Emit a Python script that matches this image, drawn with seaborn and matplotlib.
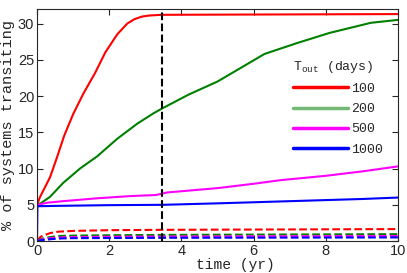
import numpy as np
import pandas as pd
import matplotlib
matplotlib.use("Agg")
import matplotlib.pyplot as plt
from matplotlib.lines import Line2D
import seaborn as sns

sns.set_style("ticks")

# --- data (time in yr, % of systems transiting) ---
t_red = [0, 0.08, 0.36, 0.55, 0.75, 1.0, 1.28, 1.61, 1.89, 2.22, 2.5, 2.7, 2.9, 3.1, 3.45, 10]
y_red = [5, 6.05, 8.8, 11.5, 14.5, 17.5, 20.3, 23.2, 26.0, 28.5, 30.0, 30.6, 30.95, 31.1, 31.2, 31.3]

t_green = [0, 0.1, 0.36, 0.72, 1.19, 1.67, 2.22, 2.78, 3.22, 3.47, 4.2, 5.0, 6.3, 7.2, 8.1, 9.25, 10]
y_green = [5, 5.2, 6.1, 8.0, 10.0, 11.7, 14.1, 16.2, 17.6, 18.3, 20.2, 22.0, 25.8, 27.3, 28.7, 30.1, 30.5]

t_mag = [0, 0.3, 0.72, 1.67, 2.58, 3.3, 3.6, 5, 6, 6.75, 8, 9, 10]
y_mag = [5, 5.3, 5.5, 5.9, 6.2, 6.35, 6.7, 7.3, 7.9, 8.4, 9.0, 9.6, 10.3]

t_blue = [0, 0.01, 0.5, 2, 3.5, 5, 7, 9, 10]
y_blue = [0, 4.8, 4.85, 4.95, 5.0, 5.2, 5.5, 5.8, 6.0]

# dashed (lower) curves
t_dash = [0, 0.1, 0.36, 0.6, 1.0, 2.0, 3.5, 10]
y_dash_red = [0, 0.6, 1.1, 1.3, 1.4, 1.5, 1.55, 1.65]
y_dash_green = [0, 0.3, 0.55, 0.7, 0.75, 0.8, 0.85, 0.95]
y_dash_mag = [0, 0.2, 0.4, 0.5, 0.55, 0.6, 0.62, 0.7]
y_dash_blue = [0, 0.1, 0.25, 0.35, 0.4, 0.42, 0.45, 0.5]

t_cut = 3.47
labels = ["100", "200", "500", "1000"]
colors = ["#ff0000", "#008000", "#ff00ff", "#0000ff"]

solid = [(t_red, y_red), (t_green, y_green), (t_mag, y_mag), (t_blue, y_blue)]
dashed = [y_dash_red, y_dash_green, y_dash_mag, y_dash_blue]

fig = plt.figure(figsize=(4.07, 2.73), dpi=100)
ax = fig.add_axes([0.091, 0.117, 0.887, 0.85])

for (tt, yy), col in zip(solid, colors):
    sns.lineplot(x=tt, y=yy, color=col, lw=1.5, ax=ax)
for yy, col in zip(dashed, colors):
    sns.lineplot(x=t_dash, y=yy, color=col, lw=1.5, linestyle="--", ax=ax)

ax.axvline(t_cut, color="black", lw=1.5, ls="--")

ax.set_xlim(0, 10)
ax.set_ylim(0, 32)
ax.set_xticks([0, 2, 4, 6, 8, 10])
ax.set_yticks([0, 5, 10, 15, 20, 25, 30])
ax.tick_params(direction="in", top=True, right=True, labelsize=10.5, length=4, pad=2)
for lab in ax.get_xticklabels() + ax.get_yticklabels():
    lab.set_family("Liberation Sans")
for s in ax.spines.values():
    s.set_linewidth(0.8)

mono = "Liberation Mono"
ax.set_xlabel("time (yr)", family=mono, fontsize=10.5)
ax.set_ylabel("% of systems transiting", family=mono, fontsize=11)
ax.xaxis.set_label_coords(0.55, -0.075)
ax.yaxis.set_label_coords(-0.06, 0.5)

handles = [Line2D([0], [0], color=c, lw=2.5, alpha=0.55 if c == "#008000" else 1)
           for c in colors]
leg = ax.legend(handles, labels, title=r"$\mathregular{T_{out}}$ (days)",
                loc="upper left", bbox_to_anchor=(0.709, 0.785), frameon=False,
                prop={"family": mono, "size": 9.5}, handlelength=4.2,
                labelspacing=0.6, handletextpad=0.2, borderpad=0,
                borderaxespad=0, alignment="left")
leg.get_title().set_family(mono)
leg.get_title().set_fontsize(9.5)

fig.savefig("out.png", dpi=100)
